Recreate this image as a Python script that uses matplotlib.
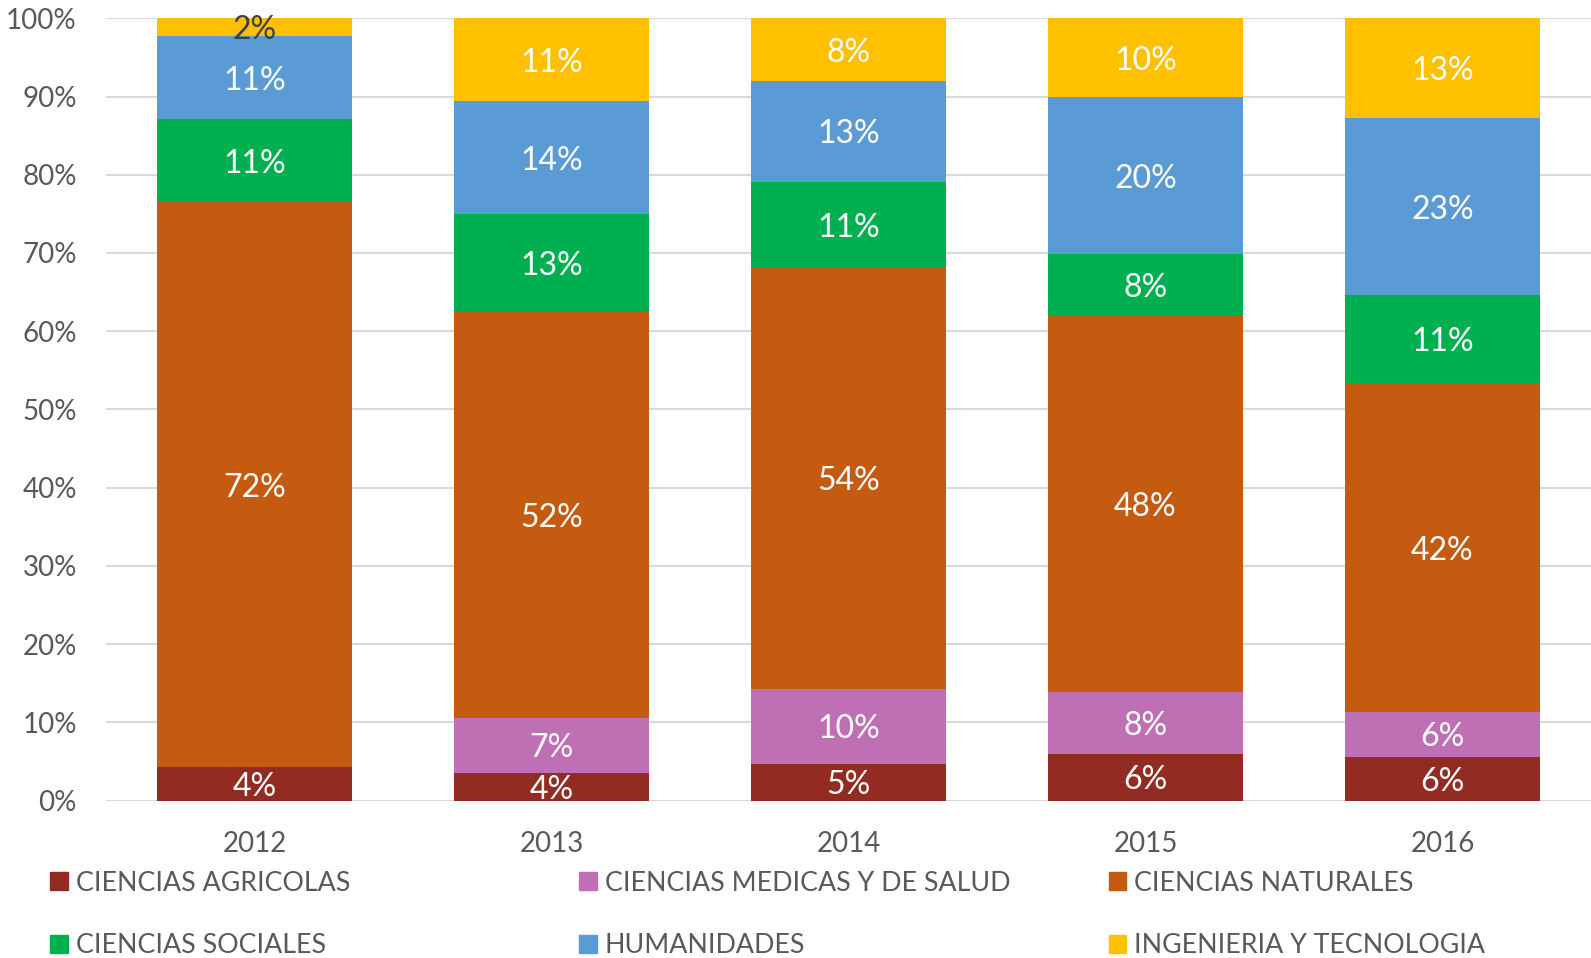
import numpy as np
import matplotlib
matplotlib.use('Agg')
import matplotlib.pyplot as plt
from matplotlib.patches import Patch

plt.rcParams['font.family'] = ['Lato', 'DejaVu Sans']

# data (percent of total per year)
years = ['2012', '2013', '2014', '2015', '2016']
categories = ['CIENCIAS AGRICOLAS', 'CIENCIAS MEDICAS Y DE SALUD', 'CIENCIAS NATURALES',
              'CIENCIAS SOCIALES', 'HUMANIDADES', 'INGENIERIA Y TECNOLOGIA']
agricolas = [4.3, 3.5, 4.7, 6.0, 5.6]
medicas = [0.0, 7.1, 9.6, 7.9, 5.7]
naturales = [72.2, 51.8, 53.8, 48.0, 42.1]
sociales = [10.6, 12.6, 11.0, 8.0, 11.2]
humanidades = [10.6, 14.4, 12.9, 20.0, 22.6]
ingenieria = [2.3, 10.6, 8.0, 10.1, 12.8]

series = [agricolas, medicas, naturales, sociales, humanidades, ingenieria]
colors = ['#922B21', '#BF70B5', '#C55A11', '#00B050', '#5B9BD5', '#FFC000']
grey = '#595959'

fig = plt.figure(figsize=(15.91, 9.58), dpi=100)
ax = fig.add_axes([0.0666, 0.1643, 0.9334, 0.8166])

x = np.arange(len(years))
bottom = np.zeros(len(years))
for vals, col in zip(series, colors):
    vals = np.array(vals) / 100.0
    ax.bar(x, vals, 0.655, bottom=bottom, color=col, zorder=3)
    for xi, v, b in zip(x, vals, bottom):
        if v <= 0:
            continue
        # the tiny top segment in 2012 gets a dark label like the original
        tc = '#404040' if v < 0.03 else 'white'
        ax.text(xi, b + v / 2, f"{round(v * 100)}%", ha='center', va='center_baseline',
                color=tc, fontsize=23, zorder=4)
    bottom += vals

ax.set_xlim(-0.5, len(years) - 0.5)
ax.set_ylim(0, 1)
ax.set_yticks(np.arange(0, 1.01, 0.1))
ax.set_yticklabels([f"{int(t * 100)}%" for t in np.arange(0, 1.01, 0.1)])
ax.set_xticks(x)
ax.set_xticklabels(years)
ax.grid(axis='y', color='#D9D9D9', linewidth=1.5, zorder=0)
for s in ax.spines.values():
    s.set_visible(False)
ax.tick_params(axis='both', length=0, colors=grey, labelsize=20)
ax.tick_params(axis='y', pad=21)
ax.tick_params(axis='x', pad=22)

# legend, three evenly spaced columns like the excel chart
handles = [Patch(color=c) for c in colors]
cols = [(0, 3), (1, 4), (2, 5)]
xpos = [0.0315, 0.364, 0.697]
for (i, j), xp in zip(cols, xpos):
    leg = fig.legend([handles[i], handles[j]], [categories[i], categories[j]],
                     loc='upper left', bbox_to_anchor=(xp, 0.091), frameon=False,
                     fontsize=19.3, handlelength=0.65, handleheight=0.65,
                     handletextpad=0.3, labelspacing=1.4, borderaxespad=0,
                     borderpad=0)
    for t in leg.get_texts():
        t.set_color(grey)

fig.savefig('out.png', dpi=100)
